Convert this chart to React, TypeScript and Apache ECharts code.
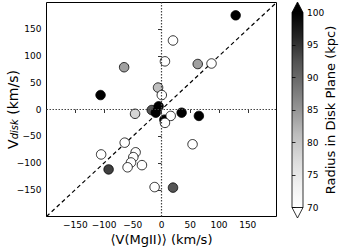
import React, { useEffect, useRef } from "react";
import * as echarts from "echarts";

// [<V(MgII)> km/s, V_disk km/s, radius in disk plane kpc]
const xValues = [129, 20, -65, -106, 6, 63, 87, -6, 0.5, -46, -17, -5, -10, 5, 35, 65, 16, 6, 54, -12, 20, -64, -105, -92, -45, -49, -53, -59, -34];
const yValues = [176, 129, 79, 27, 90, 85, 86, 41, 27, -8, -1, 6, -6, -19, -6, -12, -12, -25, -65, -145, -146, -62, -84, -112, -80, -89, -99, -108, -104];
const radii = [100, 70, 84, 100, 70, 84, 70, 81, 70, 78, 92, 100, 100, 100, 100, 100, 70, 70, 70, 70, 92, 70, 70, 94, 70, 70, 70, 70, 70];

const axisTicks = [-150, -100, -50, 0, 50, 100, 150];
const cbarTicks = [70, 75, 80, 85, 90, 95, 100];
const greys = ["#ffffff", "#f0f0f0", "#d9d9d9", "#bdbdbd", "#969696", "#737373", "#525252", "#252525", "#000000"];
const diagonal = [[-200, -200], [200, 200]];

const FONT = "DejaVu Sans";

export default function App() {
  const ref = useRef<HTMLDivElement>(null);
  useEffect(() => {
    if (!ref.current) return;
    const chart = echarts.init(ref.current, null, { renderer: "svg" });
    const points = xValues.map((x, i) => [x, yValues[i], radii[i]]);
    const cbX = 292, cbTop = 12.5, cbW = 11, cbH = 195;
    const tickStyle = { show: true, inside: false, length: 3.5, lineStyle: { color: "#000", width: 0.8 } };
    const labelStyle = { fontFamily: FONT, fontSize: 9, color: "#000" };
    const minus = (v: number) => String(v).replace("-", "\u2212");
    chart.setOption({
      animation: false,
      textStyle: { fontFamily: FONT },
      grid: [
        { left: 46.5, top: 2.5, width: 230, height: 214, show: true, borderColor: "#000", borderWidth: 1, backgroundColor: "transparent", containLabel: false, outerBoundsMode: "none" },
        { left: cbX, top: cbTop, width: cbW, height: cbH, containLabel: false, outerBoundsMode: "none" },
      ],
      xAxis: [
        {
          type: "value", gridIndex: 0, min: -200, max: 200, interval: 50,
          splitLine: { show: false },
          axisLine: { show: false },
          axisTick: { ...tickStyle, customValues: axisTicks },
          axisLabel: { ...labelStyle, margin: 4, customValues: axisTicks, formatter: minus },
          name: "\u27E8V(MgII)\u27E9 (km/s)", nameLocation: "middle", nameGap: 16.5, nameMoveOverlap: false,
          nameTextStyle: { fontFamily: FONT, fontSize: 13, color: "#000" },
        },
        { type: "value", gridIndex: 1, min: 0, max: 1, show: false },
      ],
      yAxis: [
        {
          type: "value", gridIndex: 0, min: -200, max: 200, interval: 50,
          splitLine: { show: false },
          axisLine: { show: false },
          axisTick: { ...tickStyle, customValues: axisTicks },
          axisLabel: { ...labelStyle, margin: 5, customValues: axisTicks, formatter: minus },
          name: "{a|V}{b|disk}{a| (km/s)}", nameLocation: "middle", nameGap: 27, nameRotate: 90, nameMoveOverlap: false,
          nameTextStyle: {
            fontFamily: FONT, color: "#000",
            rich: {
              a: { fontFamily: FONT, fontSize: 14, color: "#000", lineHeight: 18, verticalAlign: "bottom" },
              b: { fontFamily: FONT, fontSize: 10, fontStyle: "italic", color: "#000", lineHeight: 18, verticalAlign: "bottom", padding: [5, 0, 0, 0] },
            },
          },
        },
        {
          type: "value", gridIndex: 1, min: 70, max: 100, interval: 5, position: "right",
          splitLine: { show: false },
          axisLine: { show: false },
          axisTick: { ...tickStyle, customValues: cbarTicks },
          axisLabel: { ...labelStyle, margin: 4, customValues: cbarTicks },
          name: "Radius in Disk Plane (kpc)", nameLocation: "middle", nameGap: 21, nameRotate: 90, nameMoveOverlap: false,
          nameTextStyle: { fontFamily: FONT, fontSize: 13, color: "#000", verticalAlign: "top" },
        },
      ],
      visualMap: {
        show: false, type: "continuous", min: 70, max: 100, dimension: 2, seriesIndex: 2,
        inRange: { color: greys },
      },
      series: [
        {
          type: "line", xAxisIndex: 0, yAxisIndex: 0, data: diagonal, showSymbol: false, symbol: "none",
          lineStyle: { color: "#000", width: 1.2, type: [4, 3] }, clip: true, silent: true, z: 1,
        },
        {
          type: "line", xAxisIndex: 0, yAxisIndex: 0, data: [], symbol: "none", silent: true, z: 1,
          markLine: {
            silent: true, symbol: "none", label: { show: false },
            lineStyle: { color: "#444", width: 1.2, type: [1.5, 1.5] },
            data: [{ xAxis: 0 }, { yAxis: 0 }],
          },
        },
        {
          type: "scatter", xAxisIndex: 0, yAxisIndex: 0, data: points, symbolSize: 9.5,
          itemStyle: { borderColor: "#000", borderWidth: 0.8, opacity: 1 }, z: 3,
        },
      ],
      graphic: [
        {
          type: "rect", shape: { x: cbX, y: cbTop, width: cbW, height: cbH },
          style: {
            fill: new echarts.graphic.LinearGradient(0, 1, 0, 0, greys.map((c, i) => ({ offset: i / (greys.length - 1), color: c }))),
            stroke: "#000", lineWidth: 0.8,
          },
        },
        {
          type: "polygon", shape: { points: [[cbX, cbTop], [cbX + cbW / 2, cbTop - 10.5], [cbX + cbW, cbTop]] },
          style: { fill: "#000", stroke: "#000", lineWidth: 0.8 },
        },
        {
          type: "polygon", shape: { points: [[cbX, cbTop + cbH], [cbX + cbW / 2, cbTop + cbH + 10.5], [cbX + cbW, cbTop + cbH]] },
          style: { fill: "#fff", stroke: "#000", lineWidth: 0.8 },
        },
      ],
    });
    return () => chart.dispose();
  }, []);
  return <div ref={ref} style={{ width: 340, height: 249, position: "absolute", left: 0, top: 0 }} />;
}
